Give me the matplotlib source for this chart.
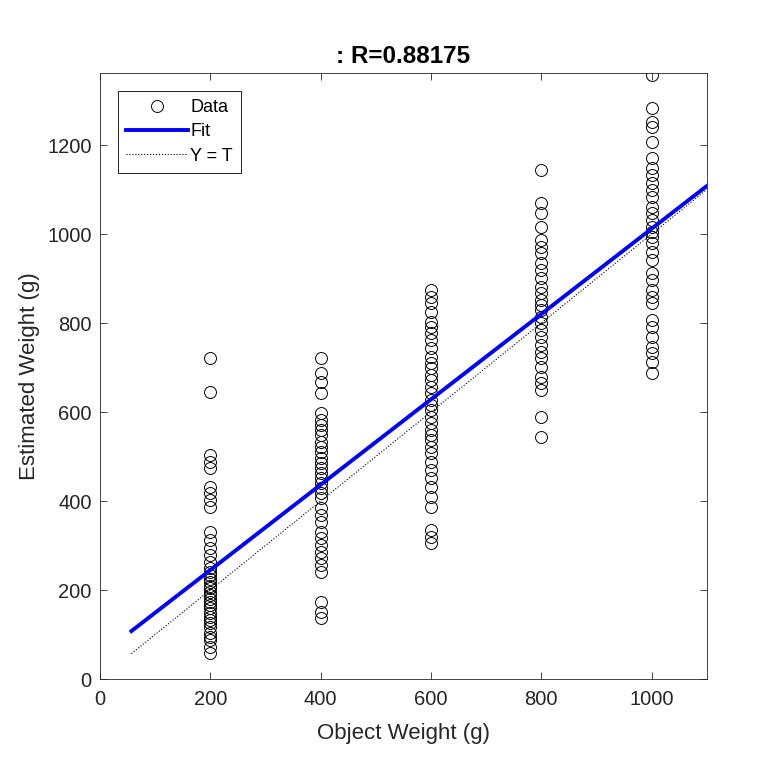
import numpy as np
import matplotlib
matplotlib.use('Agg')
import matplotlib.pyplot as plt

plt.rcParams['font.family'] = ['Liberation Sans', 'DejaVu Sans']

# ── data ─────────────────────────────────────────────────────────────────────
targets = [200, 400, 600, 800, 1000]

est_200 = [721, 645, 503, 488, 474, 432, 418, 402, 387, 330, 312, 294, 279,
           263, 249, 240, 234, 225, 218, 210, 204, 196, 189, 180, 173, 166,
           160, 148, 140, 133, 125, 117, 103, 95, 88, 72, 58]
est_400 = [721, 688, 667, 642, 597, 582, 571, 560, 548, 533, 522, 510, 496,
           485, 474, 463, 452, 440, 429, 418, 407, 384, 369, 353, 330, 317,
           301, 285, 272, 256, 240, 173, 150, 137]
est_600 = [874, 859, 845, 825, 802, 791, 778, 762, 744, 724, 710, 699, 683,
           672, 656, 643, 627, 616, 604, 589, 575, 560, 548, 537, 521, 508,
           488, 470, 452, 432, 409, 387, 335, 319, 306]
est_800 = [1144, 1070, 1047, 1016, 987, 971, 957, 935, 919, 901, 881, 867,
           852, 840, 829, 813, 800, 784, 769, 751, 735, 721, 701, 679, 665,
           649, 589, 544]
est_1000 = [1357, 1283, 1252, 1240, 1207, 1171, 1148, 1133, 1115, 1099, 1083,
            1061, 1047, 1031, 1016, 1004, 993, 980, 960, 942, 912, 897, 874,
            859, 845, 807, 791, 769, 746, 732, 712, 688]

# fit line
fit_slope = 0.959
fit_icept = 53.0
line_x = [57, 1100]
r_value = 0.88175
# ─────────────────────────────────────────────────────────────────────────────

xs, ys = [], []
for t, est in zip(targets, [est_200, est_400, est_600, est_800, est_1000]):
    xs += [t] * len(est)
    ys += est
xs = np.array(xs)
ys = np.array(ys)

fig = plt.figure(figsize=(7.81, 7.81), dpi=100)
ax = fig.add_axes([0.128, 0.1306, 0.777, 0.776])

lx = np.array(line_x, dtype=float)
ax.plot(xs, ys, 'o', mfc='none', mec='black', ms=8.6, mew=0.7,
        label='Data', zorder=2)
ax.plot(lx, fit_slope * lx + fit_icept, '-', color='#0000ff', lw=2.8,
        label='Fit', zorder=3)
ax.plot(lx, lx, ':', color='black', lw=0.8, label='Y = T', zorder=4)

ax.set_xlim(0, 1100)
ax.set_ylim(0, 1362)
ax.set_xticks([0, 200, 400, 600, 800, 1000])
ax.set_yticks([0, 200, 400, 600, 800, 1000, 1200])
ax.tick_params(direction='in', top=True, right=True, labelsize=14.5,
               length=5, width=0.6, colors='#262626', labelcolor='#262626')
ax.tick_params(axis='x', pad=8)
ax.tick_params(axis='y', pad=6)
for s in ax.spines.values():
    s.set_linewidth(0.6)
    s.set_color('#262626')

ax.set_xlabel('Object Weight (g)', fontsize=16, color='#262626', labelpad=10)
ax.set_ylabel('Estimated Weight (g)', fontsize=16, color='#262626', labelpad=5)
ax.set_title(f': R={r_value:.5f}', fontsize=17.5, fontweight='bold', pad=7)

leg = ax.legend(loc='upper left', fontsize=13, fancybox=False,
                edgecolor='black', framealpha=1, borderaxespad=1.0,
                handlelength=3.4, handletextpad=0.15, borderpad=0.45,
                labelspacing=0.4)
leg.get_frame().set_linewidth(0.6)

fig.savefig('out.png', dpi=100, facecolor='white')
